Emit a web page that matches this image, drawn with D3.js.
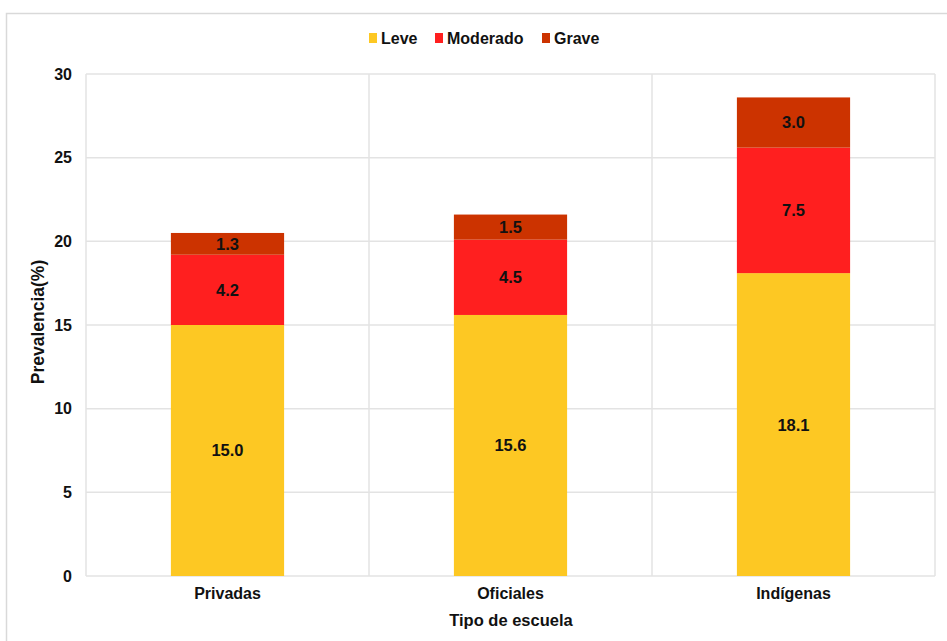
<!DOCTYPE html>
<html>
<head>
<meta charset="utf-8">
<script src="https://cdn.jsdelivr.net/npm/d3@7"></script>
<style>
  body { margin: 0; background: #fff; }
  text { font-family: "Liberation Sans", Arial, sans-serif; font-weight: bold; fill: #111; }
</style>
</head>
<body>
<svg width="947" height="641"></svg>
<script>
// Categories and series
const categories = ["Privadas", "Oficiales", "Indígenas"];
const seriesNames = ["Leve", "Moderado", "Grave"];
const leve = [15.0, 15.6, 18.1];
const moderado = [4.2, 4.5, 7.5];
const grave = [1.3, 1.5, 3.0];
const yTicks = [0, 5, 10, 15, 20, 25, 30];
const colors = ["#fdc823", "#ff1f1f", "#cc3300"];

const rows = categories.map((c, i) => ({ cat: c, Leve: leve[i], Moderado: moderado[i], Grave: grave[i] }));
const stacked = d3.stack().keys(seriesNames)(rows);

const svg = d3.select("svg");
const margin = { left: 86, top: 74, right: 935, bottom: 576 };

// outer frame
svg.append("rect")
    .attr("x", 6.5).attr("y", 13.5)
    .attr("width", 960).attr("height", 660)
    .attr("fill", "none").attr("stroke", "#d9d9d9").attr("stroke-width", 1.5);

const x = d3.scaleBand()
    .domain(categories)
    .range([margin.left, margin.right])
    .paddingInner(0).paddingOuter(0);

const y = d3.scaleLinear().domain([0, 30]).range([margin.bottom, margin.top]);

// gridlines
svg.append("g").selectAll("line")
    .data(yTicks)
    .enter().append("line")
    .attr("x1", margin.left).attr("x2", margin.right)
    .attr("y1", d => y(d)).attr("y2", d => y(d))
    .attr("stroke", "#e3e3e3").attr("stroke-width", 1.5);

svg.append("g").selectAll("line")
    .data(categories.concat(["end"]))
    .enter().append("line")
    .attr("x1", (d, i) => margin.left + i * x.bandwidth())
    .attr("x2", (d, i) => margin.left + i * x.bandwidth())
    .attr("y1", margin.top).attr("y2", margin.bottom)
    .attr("stroke", "#e3e3e3").attr("stroke-width", 1.5);

// bars
const barW = x.bandwidth() * 0.4;
const layer = svg.append("g").selectAll("g")
    .data(stacked)
    .enter().append("g")
    .attr("fill", (d, i) => colors[i]);

layer.selectAll("rect")
    .data(d => d)
    .enter().append("rect")
    .attr("x", d => x(d.data.cat) + (x.bandwidth() - barW) / 2)
    .attr("width", barW)
    .attr("y", d => y(d[1]))
    .attr("height", d => y(d[0]) - y(d[1]));

// value labels
layer.selectAll("text")
    .data(d => d)
    .enter().append("text")
    .attr("x", d => x(d.data.cat) + x.bandwidth() / 2)
    .attr("y", d => (y(d[0]) + y(d[1])) / 2)
    .attr("dy", "0.36em")
    .attr("text-anchor", "middle")
    .attr("font-size", 16.5)
    .text(d => (d[1] - d[0]).toFixed(1));

// y axis labels
const yAxis = d3.axisLeft(y).tickValues(yTicks).tickSize(0).tickPadding(14);
svg.append("g")
    .attr("transform", `translate(${margin.left},0)`)
    .call(yAxis)
    .call(g => g.select(".domain").remove())
    .selectAll("text")
    .attr("font-size", 16);

// x axis labels
const xAxis = d3.axisBottom(x).tickSize(0).tickPadding(12);
svg.append("g")
    .attr("transform", `translate(0,${margin.bottom})`)
    .call(xAxis)
    .call(g => g.select(".domain").remove())
    .selectAll("text")
    .attr("font-size", 16);

// axis titles
svg.append("text")
    .attr("transform", "translate(44,322) rotate(-90)")
    .attr("text-anchor", "middle")
    .attr("font-size", 17.5)
    .text("Prevalencia(%)");

svg.append("text")
    .attr("x", 511).attr("y", 626)
    .attr("text-anchor", "middle")
    .attr("font-size", 16.5)
    .text("Tipo de escuela");

// legend
const legendX = [369, 435, 542];
const legend = svg.append("g").selectAll("g")
    .data(seriesNames)
    .enter().append("g")
    .attr("transform", (d, i) => `translate(${legendX[i]},38)`);

legend.append("rect")
    .attr("x", 0).attr("y", -5)
    .attr("width", 8).attr("height", 10)
    .attr("fill", (d, i) => colors[i]);

legend.append("text")
    .attr("x", 12).attr("dy", "0.36em")
    .attr("font-size", 16)
    .text(d => d);
</script>
</body>
</html>
